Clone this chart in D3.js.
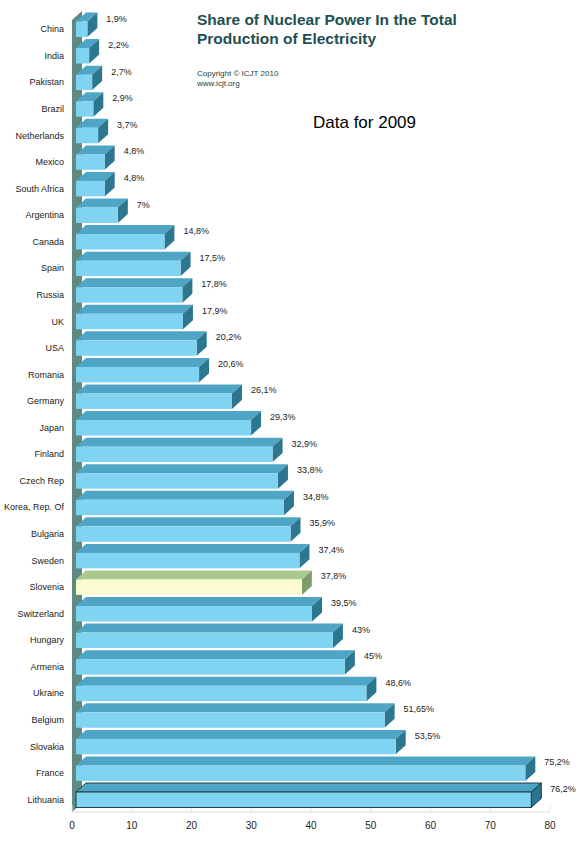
<!DOCTYPE html><html><head><meta charset="utf-8"><script src="https://cdn.jsdelivr.net/npm/d3@7"></script>
<style>body{margin:0;background:#fff}</style></head><body><svg id="c" width="583" height="842"></svg><script>
const countries=["China","India","Pakistan","Brazil","Netherlands","Mexico","South Africa","Argentina","Canada","Spain","Russia","UK","USA","Romania","Germany","Japan","Finland","Czech Rep","Korea, Rep. Of","Bulgaria","Sweden","Slovenia","Switzerland","Hungary","Armenia","Ukraine","Belgium","Slovakia","France","Lithuania"];
const values=[1.9,2.2,2.7,2.9,3.7,4.8,4.8,7,14.8,17.5,17.8,17.9,20.2,20.6,26.1,29.3,32.9,33.8,34.8,35.9,37.4,37.8,39.5,43,45,48.6,51.65,53.5,75.2,76.2];
const valueLabels=["1,9%","2,2%","2,7%","2,9%","3,7%","4,8%","4,8%","7%","14,8%","17,5%","17,8%","17,9%","20,2%","20,6%","26,1%","29,3%","32,9%","33,8%","34,8%","35,9%","37,4%","37,8%","39,5%","43%","45%","48,6%","51,65%","53,5%","75,2%","76,2%"];
const ticks=[0,10,20,30,40,50,60,70,80];
const svg=d3.select("#c");
const x=d3.scaleLinear().domain([0,80]).range([72,550]);
const y=d3.scaleBand().domain(countries).range([12,808]).paddingInner(0.08).paddingOuter(0.02);
const dx=10,dy=9,x0=76;
svg.append("path").attr("d",`M72,${812} L72,20 L${72+dx},${20-dy} L${72+dx},${812-dy} Z`).attr("fill","#5e8a82");
svg.append("line").attr("x1",72).attr("x2",550).attr("y1",812).attr("y2",812).attr("stroke","#ddd");
ticks.forEach(t=>svg.append("line").attr("x1",x(t)).attr("x2",x(t)).attr("y1",805).attr("y2",812).attr("stroke","#e4e4e4"));
const g=svg.selectAll("g.bar").data(countries).join("g");
g.each(function(c,i){
  const s=d3.select(this);const top=y(c)+dy,h=y.bandwidth()-dy,xr=x(values[i])+4;
  const slo=c==="Slovenia",lit=c==="Lithuania";
  const st=lit?"#1b3f4a":"none";
  s.append("path").attr("d",`M${x0},${top} L${x0+dx},${top-dy} L${xr+dx},${top-dy} L${xr},${top} Z`).attr("fill",slo?"#a9c98f":"#4ea5c6").attr("stroke",st);
  s.append("path").attr("d",`M${xr},${top} L${xr+dx},${top-dy} L${xr+dx},${top+h-dy} L${xr},${top+h} Z`).attr("fill",slo?"#7f9d6c":"#2c7690").attr("stroke",st);
  s.append("rect").attr("x",x0).attr("y",top).attr("width",xr-x0).attr("height",h).attr("fill",slo?"#fbfbd2":"#80d3f1").attr("stroke",lit?"#1b3f4a":"none");
  s.append("text").attr("x",64).attr("y",top+h/2+3).attr("text-anchor","end").attr("font-size",9).attr("font-family","Liberation Sans, Arial").attr("fill","#222").text(c);
  s.append("text").attr("x",xr+dx+9).attr("y",top).attr("font-size",9).attr("font-family","Liberation Sans, Arial").attr("fill","#222").text(valueLabels[i]);
});
svg.selectAll("text.tick").data(ticks).join("text").attr("x",d=>x(d)).attr("y",829).attr("text-anchor","middle").attr("font-size",10).attr("font-family","Liberation Sans, Arial").attr("fill","#222").text(d=>d);
const T=svg.append("g").attr("font-family","Liberation Sans, Arial");
T.append("text").attr("x",197).attr("y",25).attr("font-size",15.5).attr("font-weight","bold").attr("fill","#1e5050").text("Share of Nuclear Power In the Total");
T.append("text").attr("x",197).attr("y",44).attr("font-size",15.5).attr("font-weight","bold").attr("fill","#1e5050").text("Production of Electricity");
T.append("text").attr("x",197).attr("y",76).attr("font-size",8).attr("fill","#1e4040").text("Copyright © ICJT 2010");
T.append("text").attr("x",197).attr("y",86).attr("font-size",8).attr("fill","#1e4040").text("www.icjt.org");
T.append("text").attr("x",313).attr("y",128).attr("font-size",17).attr("fill","#000").text("Data for 2009");
</script></body></html>
